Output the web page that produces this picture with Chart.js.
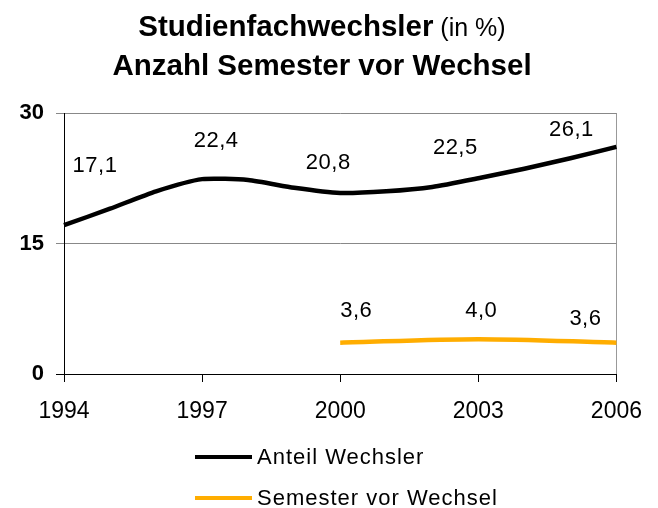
<!DOCTYPE html>
<html>
<head>
<meta charset="utf-8">
<script src="https://cdn.jsdelivr.net/npm/chart.js@4.4.1/dist/chart.umd.min.js"></script>
<style>
  html, body { margin: 0; padding: 0; background: #fff; }
  #wrap { width: 658px; height: 508px; }
</style>
</head>
<body>
<div id="wrap"><canvas id="myChart" width="658" height="508"></canvas></div>
<script>
// data
var years = [1994, 1995, 1996, 1997, 1998, 1999, 2000, 2001, 2002, 2003, 2004, 2005, 2006];
var anteilWechsler = [17.1, 19.0, 21.0, 22.4, 22.3, 21.4, 20.8, 21.0, 21.5, 22.5, 23.6, 24.8, 26.1];
var semesterYears = [2000, 2003, 2006];
var semesterVorWechsel = [3.6, 4.0, 3.6];
var xTicks = [1994, 1997, 2000, 2003, 2006];
var yTicks = [0, 15, 30];
var labelledYears = [1994, 1997, 2000, 2003, 2006];

var FONT = "'Liberation Sans', Arial, sans-serif";

function toPoints(xs, ys) {
    return xs.map(function (x, i) { return { x: x, y: ys[i] }; });
}

// where each value label sits, relative to its point (px)
var labelOffsets = [
    { 1994: [31, -59], 1997: [14, -38], 2000: [-12, -30], 2003: [-23, -30], 2006: [-45, -17] },
    { 2000: [16, -32], 2003: [3, -28], 2006: [-31, -24] }
];

var valueLabels = {
    id: 'valueLabels',
    afterDatasetsDraw: function (chart) {
        var ctx = chart.ctx;
        ctx.save();
        ctx.font = '22px ' + FONT;
        ctx.letterSpacing = '0.5px';
        ctx.fillStyle = '#000';
        ctx.textAlign = 'center';
        ctx.textBaseline = 'middle';
        chart.data.datasets.forEach(function (ds, i) {
            var meta = chart.getDatasetMeta(i);
            ds.data.forEach(function (p, j) {
                if (labelledYears.indexOf(p.x) < 0) return;
                var off = labelOffsets[i][p.x];
                if (!off) return;
                var el = meta.data[j];
                ctx.fillText(p.y.toFixed(1).replace('.', ','), el.x + off[0], el.y + off[1]);
            });
        });
        ctx.restore();
    }
};

var titleAndLegend = {
    id: 'titleAndLegend',
    afterDraw: function (chart) {
        var ctx = chart.ctx;
        var cx = 322;
        ctx.save();
        ctx.fillStyle = '#000';
        ctx.textBaseline = 'alphabetic';
        // title line 1, mixed weights
        var t1 = 'Studienfachwechsler', t2 = ' (in %)';
        ctx.font = 'bold 29.5px ' + FONT;
        var w1 = ctx.measureText(t1).width;
        ctx.font = '25px ' + FONT;
        var w2 = ctx.measureText(t2).width;
        var x0 = cx - (w1 + w2) / 2;
        ctx.textAlign = 'left';
        ctx.font = 'bold 29.5px ' + FONT;
        ctx.fillText(t1, x0, 36);
        ctx.font = '25px ' + FONT;
        ctx.fillText(t2, x0 + w1, 36);
        // title line 2
        ctx.textAlign = 'center';
        ctx.font = 'bold 29.5px ' + FONT;
        ctx.fillText('Anzahl Semester vor Wechsel', cx, 75);

        // legend, stacked
        var rows = [457, 498];
        ctx.textAlign = 'left';
        ctx.textBaseline = 'middle';
        ctx.font = '22px ' + FONT;
        ctx.letterSpacing = '1px';
        chart.data.datasets.forEach(function (ds, i) {
            ctx.strokeStyle = ds.borderColor;
            ctx.lineWidth = 4;
            ctx.beginPath();
            ctx.moveTo(195, rows[i]);
            ctx.lineTo(252, rows[i]);
            ctx.stroke();
            ctx.fillText(ds.label, 257, rows[i] + 1);
        });
        ctx.restore();
    }
};

var ctx = document.getElementById('myChart').getContext('2d');
var myChart = new Chart(ctx, {
    type: 'line',
    data: {
        datasets: [{
            label: 'Anteil Wechsler',
            data: toPoints(years, anteilWechsler),
            borderColor: '#000000',
            borderWidth: 4.5,
            pointRadius: 0,
            tension: 0.2,
            clip: false
        }, {
            label: 'Semester vor Wechsel',
            data: toPoints(semesterYears, semesterVorWechsel),
            borderColor: '#ffad00',
            borderWidth: 4.5,
            pointRadius: 0,
            tension: 0.3,
            clip: false
        }]
    },
    options: {
        responsive: false,
        animation: false,
        layout: { padding: { top: 113, right: 38, bottom: 74, left: 0 } },
        plugins: {
            legend: { display: false },
            title: { display: false },
            tooltip: { enabled: false }
        },
        scales: {
            x: {
                type: 'linear',
                min: 1994,
                max: 2006,
                afterBuildTicks: function (scale) {
                    scale.ticks = xTicks.map(function (v) { return { value: v }; });
                },
                afterFit: function (scale) { scale.height = 60; },
                ticks: {
                    color: '#000',
                    font: { family: FONT, size: 23 },
                    padding: 16,
                    maxRotation: 0,
                    callback: function (v) { return String(v); }
                },
                grid: {
                    drawOnChartArea: true,
                    color: function (c) { return c.tick && c.tick.value === 2006 ? '#999999' : 'rgba(0,0,0,0)'; },
                    tickColor: '#000',
                    tickLength: 8,
                    lineWidth: 1
                },
                border: { color: '#000', width: 1 }
            },
            y: {
                min: 0,
                max: 30,
                afterBuildTicks: function (scale) {
                    scale.ticks = yTicks.map(function (v) { return { value: v }; });
                },
                afterFit: function (scale) { scale.width = 64; },
                ticks: {
                    color: '#000',
                    font: { family: FONT, size: 22, weight: 'bold' },
                    padding: 12
                },
                grid: {
                    color: function (c) { return c.tick && c.tick.value === 0 ? '#000' : '#888888'; },
                    tickColor: function (c) { return c.tick && c.tick.value === 0 ? '#000' : '#888888'; },
                    tickLength: 8,
                    lineWidth: 1
                },
                border: { color: '#000', width: 1 }
            }
        }
    },
    plugins: [valueLabels, titleAndLegend]
});
</script>
</body>
</html>
